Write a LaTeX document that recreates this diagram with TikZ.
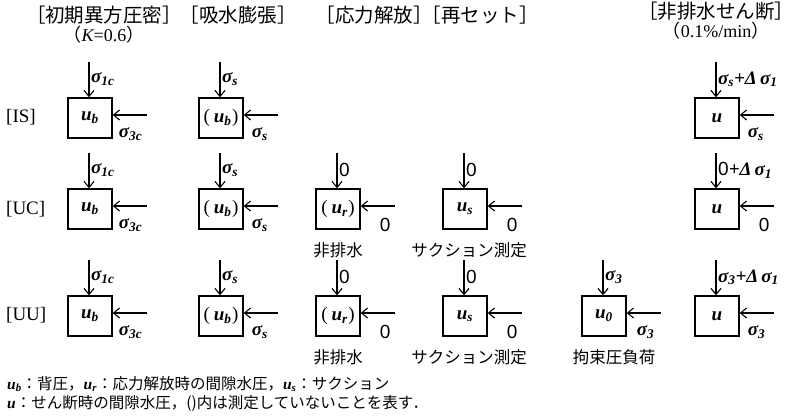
\documentclass[tikz,border=0pt]{standalone}
\usepackage{fontspec}
\setmainfont{Liberation Serif}
\newfontfamily\jp{Noto Sans CJK JP}
\newfontfamily\hv{Liberation Sans}
\usetikzlibrary{calc,arrows.meta}
\newcommand\bi[1]{{\rmfamily\bfseries\itshape #1}}
\newcommand\sg[1]{\bi{σ}\textsubscript{\bi{#1}}}
\newcommand\uv[1]{\bi{u}\textsubscript{\bi{#1}}}
\newcommand\dsg{\bi{Δ}\,\bi{σ}\textsubscript{\bi{1}}}
\newcommand\zr{{\hv 0}}
\newcommand\pu[1]{{\rmfamily(\kern4pt\uv{#1}\kern0.5pt)}}
% name, left, top, content, vlabel, hlabel, hlabel x offset
\newcommand\cellbox[7]{%
  \node[sbox] (#1) at (#2+22,#3+20) {#4};
  \coordinate (#1v) at ($(#1.north)+(-1,-35)$);
  \draw[arr] (#1v) -- ($(#1.north)+(-1,0)$);
  \node[lab,anchor=west] (#1vl) at ($(#1v)+(2,17)$) {#5};
  \coordinate (#1h) at ($(#1.east)+(34,-3)$);
  \draw[arr] (#1h) -- ($(#1.east)+(0,-3)$);
  \node[lab,anchor=west] (#1hl) at ($(#1.east)+(#7,16)$) {#6};
}
\begin{document}
\begin{tikzpicture}[x=1pt,y=-1pt,
  sbox/.style={draw,line width=1.4pt,minimum width=44pt,minimum height=40pt,inner sep=0pt,font=\fontsize{19}{21}\selectfont},
  arr/.style={line width=1.1pt,-{Straight Barb[length=6pt,width=10pt]}},
  lab/.style={inner sep=0pt,font=\fontsize{19}{21}\selectfont},
  hd/.style={inner sep=0pt,font=\jp\fontsize{19.5}{21}\selectfont},
  hs/.style={inner sep=0pt,font=\jp\fontsize{18}{20}\selectfont},
  jl/.style={inner sep=0pt,font=\jp\fontsize{16.5}{18}\selectfont},
  fl/.style={inner sep=0pt,anchor=west,font=\jp\fontsize{15.5}{17}\selectfont},
  rl/.style={inner sep=0pt,anchor=west,font=\fontsize{19}{21}\selectfont}]
\useasboundingbox (0,0) rectangle (796,417);
% headers
\node[hd] (h1) at (104,15) {［初期異方圧密］};
\node[hs] (h1b) at (104,35) {（{\rmfamily\itshape K}{\rmfamily=0.6}）};
\node[hd] (h2) at (238,15) {［吸水膨張］};
\node[hd] (h3) at (374,15) {［応力解放］};
\node[hd] (h4) at (480,15) {［再セット］};
\node[hd] (h5) at (716,11) {［非排水せん断］};
\node[hs] (h5b) at (716,31) {（{\rmfamily 0.1\%/min}）};
% row labels
\node[rl] (rIS) at (6,117) {[IS]};
\node[rl] (rUC) at (6,209) {[UC]};
\node[rl] (rUU) at (6,315) {[UU]};
% IS row
\cellbox{a1}{68}{98}{\uv{b}}{\sg{1c}}{\sg{3c}}{6}
\cellbox{a2}{199}{98}{\pu{b}}{\sg{s}}{\sg{s}}{8}
\cellbox{a6}{695}{98}{\bi{u}}{\sg{s}\bi{+}\dsg}{\sg{s}}{8}
% UC row
\cellbox{b1}{68}{189}{\uv{b}}{\sg{1c}}{\sg{3c}}{6}
\cellbox{b2}{199}{189}{\pu{b}}{\sg{s}}{\sg{s}}{8}
\cellbox{b3}{316}{189}{\pu{r}}{\zr}{\zr}{19}
\cellbox{b4}{443}{189}{\uv{s}}{\zr}{\zr}{19}
\cellbox{b6}{695}{189}{\bi{u}}{\zr\bi{+}\dsg}{\zr}{19}
\node[jl] (b3t) at ($(b3.south)+(0,21)$) {非排水};
\node[jl] (b4t) at ($(b4.south)+(4,21)$) {サクション測定};
% UU row
\cellbox{c1}{68}{296}{\uv{b}}{\sg{1c}}{\sg{3c}}{6}
\cellbox{c2}{199}{296}{\pu{b}}{\sg{s}}{\sg{s}}{8}
\cellbox{c3}{316}{296}{\pu{r}}{\zr}{\zr}{19}
\cellbox{c4}{443}{296}{\uv{s}}{\zr}{\zr}{19}
\cellbox{c5}{582}{296}{\uv{0}}{\sg{3}}{\sg{3}}{10}
\cellbox{c6}{695}{296}{\bi{u}}{\sg{3}\bi{+}\dsg}{\sg{3}}{8}
\node[jl] (c3t) at ($(c3.south)+(0,21)$) {非排水};
\node[jl] (c4t) at ($(c4.south)+(4,21)$) {サクション測定};
\node[jl] (c5t) at ($(c5.south)+(10,21)$) {拘束圧負荷};
% footer
\node[fl] (f1) at (7,384) {\uv{b}：背圧，\uv{r}：応力解放時の間隙水圧，\uv{s}：サクション};
\node[fl] (f2) at (7,403) {\bi{u}：せん断時の間隙水圧，()内は測定していないことを表す．};
\end{tikzpicture}
\end{document}
